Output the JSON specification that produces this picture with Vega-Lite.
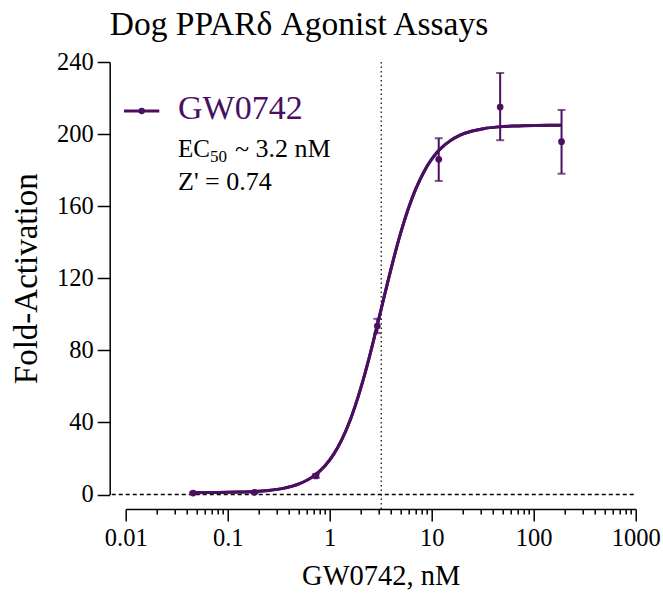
{
  "$schema": "https://vega.github.io/schema/vega-lite/v6.json",
  "width": 510,
  "height": 432.5,
  "autosize": {"type": "none"},
  "padding": {"left": 125.7, "top": 62, "right": 27.3, "bottom": 98.5},
  "background": "white",
  "config": {"view": {"stroke": null}, "font": "Liberation Serif"},
  "title": {"text": "Dog PPARδ Agonist Assays", "font": "Liberation Serif", "fontSize": 33.5, "fontWeight": "normal", "anchor": "start", "frame": "group", "dx": -16, "offset": 7, "color": "black"},
  "datasets": {
    "pts": [
      {"conc": 0.0458, "fold": 0.8, "lo": 0.3, "hi": 1.3},
      {"conc": 0.183, "fold": 1.2, "lo": 0.7, "hi": 1.7},
      {"conc": 0.732, "fold": 10.3, "lo": 9.3, "hi": 11.3},
      {"conc": 2.93, "fold": 93.5, "lo": 89.5, "hi": 97.5},
      {"conc": 11.72, "fold": 186.0, "lo": 174.0, "hi": 197.7},
      {"conc": 46.9, "fold": 215.0, "lo": 196.6, "hi": 233.9},
      {"conc": 187.5, "fold": 195.8, "lo": 178.0, "hi": 213.4}
    ],
    "curve": [
      {"conc": 0.0458, "fold": 1.04},
      {"conc": 0.06, "fold": 1.07},
      {"conc": 0.08, "fold": 1.13},
      {"conc": 0.1, "fold": 1.2},
      {"conc": 0.13, "fold": 1.34},
      {"conc": 0.18, "fold": 1.64},
      {"conc": 0.25, "fold": 2.24},
      {"conc": 0.35, "fold": 3.41},
      {"conc": 0.5, "fold": 5.86},
      {"conc": 0.7, "fold": 10.32},
      {"conc": 0.9, "fold": 15.96},
      {"conc": 1.1, "fold": 22.56},
      {"conc": 1.3, "fold": 29.9},
      {"conc": 1.6, "fold": 41.8},
      {"conc": 2.0, "fold": 58.3},
      {"conc": 2.4, "fold": 74.4},
      {"conc": 2.8, "fold": 89.5},
      {"conc": 3.2, "fold": 103.0},
      {"conc": 3.7, "fold": 117.7},
      {"conc": 4.3, "fold": 132.3},
      {"conc": 5.0, "fold": 145.7},
      {"conc": 6.0, "fold": 159.8},
      {"conc": 7.0, "fold": 169.7},
      {"conc": 8.5, "fold": 179.7},
      {"conc": 10.0, "fold": 186.1},
      {"conc": 12.0, "fold": 191.5},
      {"conc": 15.0, "fold": 196.1},
      {"conc": 19.0, "fold": 199.4},
      {"conc": 25.0, "fold": 201.7},
      {"conc": 32.0, "fold": 203.0},
      {"conc": 45.0, "fold": 204.0},
      {"conc": 65.0, "fold": 204.5},
      {"conc": 100.0, "fold": 204.8},
      {"conc": 140.0, "fold": 204.9},
      {"conc": 187.5, "fold": 204.94}
    ]
  },
  "layer": [
    {
      "data": {"name": "curve"},
      "mark": {"type": "line", "color": "#4a0f5f", "strokeWidth": 3, "interpolate": "monotone"},
      "encoding": {
        "x": {
          "field": "conc", "type": "quantitative",
          "scale": {"type": "log", "domain": [0.01, 1000], "nice": false},
          "axis": {
            "title": "GW0742, nM",
            "titleFont": "Liberation Serif", "titleFontSize": 28.5, "titleFontWeight": "normal", "titleColor": "black", "titlePadding": 12,
            "values": [0.01,0.02,0.03,0.04,0.05,0.06,0.07,0.08,0.09,0.1,0.2,0.3,0.4,0.5,0.6,0.7,0.8,0.9,1,2,3,4,5,6,7,8,9,10,20,30,40,50,60,70,80,90,100,200,300,400,500,600,700,800,900,1000],
            "format": "~g",
            "labelExpr": "abs(log(datum.value)/LN10 - round(log(datum.value)/LN10)) < 0.01 ? datum.label : ''",
            "labelOverlap": false,
            "labelFlush": false,
            "labelFont": "Liberation Serif", "labelFontSize": 24.5, "labelColor": "black", "labelPadding": 5,
            "tickSize": {"condition": {"test": "abs(log(datum.value)/LN10 - round(log(datum.value)/LN10)) < 0.01", "value": 12}, "value": 5},
            "tickColor": "black", "tickWidth": 1.5,
            "domainColor": "black", "domainWidth": 1.5,
            "offset": 14.5,
            "grid": false
          }
        },
        "y": {
          "field": "fold", "type": "quantitative",
          "scale": {"domain": [0, 240], "nice": false},
          "axis": {
            "title": "Fold-Activation",
            "titleFont": "Liberation Serif", "titleFontSize": 33, "titleFontWeight": "normal", "titleColor": "black", "titlePadding": 13,
            "values": [0, 40, 80, 120, 160, 200, 240],
            "labelFont": "Liberation Serif", "labelFontSize": 24.5, "labelColor": "black", "labelPadding": 4,
            "tickSize": 12.5, "tickColor": "black", "tickWidth": 1.5,
            "domainColor": "black", "domainWidth": 1.5,
            "offset": 16,
            "grid": false
          }
        }
      }
    },
    {
      "data": {"values": [{}]},
      "mark": {"type": "rule", "color": "black", "strokeWidth": 1.5, "strokeDash": [4, 3]},
      "encoding": {"x": {"datum": 0.0073, "type": "quantitative"}, "x2": {"datum": 1000}, "y": {"datum": 0, "type": "quantitative"}}
    },
    {
      "data": {"values": [{}]},
      "mark": {"type": "rule", "color": "black", "strokeWidth": 1.2, "strokeDash": [1.5, 3]},
      "encoding": {"x": {"datum": 3.2, "type": "quantitative"}, "y": {"datum": 240, "type": "quantitative"}, "y2": {"datum": -8}}
    },
    {
      "data": {"name": "curve"},
      "mark": {"type": "line", "color": "#4a0f5f", "strokeWidth": 3, "interpolate": "monotone"},
      "encoding": {"x": {"field": "conc", "type": "quantitative"}, "y": {"field": "fold", "type": "quantitative"}}
    },
    {
      "data": {"name": "pts"},
      "mark": {"type": "rule", "color": "#4a0f5f", "strokeWidth": 2},
      "encoding": {"x": {"field": "conc", "type": "quantitative"}, "y": {"field": "lo", "type": "quantitative"}, "y2": {"field": "hi"}}
    },
    {
      "data": {"name": "pts"},
      "mark": {"type": "tick", "orient": "horizontal", "color": "#4a0f5f", "thickness": 2, "size": 8},
      "encoding": {"x": {"field": "conc", "type": "quantitative"}, "y": {"field": "lo", "type": "quantitative"}}
    },
    {
      "data": {"name": "pts"},
      "mark": {"type": "tick", "orient": "horizontal", "color": "#4a0f5f", "thickness": 2, "size": 8},
      "encoding": {"x": {"field": "conc", "type": "quantitative"}, "y": {"field": "hi", "type": "quantitative"}}
    },
    {
      "data": {"name": "pts"},
      "mark": {"type": "point", "filled": true, "color": "#4a0f5f", "size": 45, "opacity": 1},
      "encoding": {"x": {"field": "conc", "type": "quantitative"}, "y": {"field": "fold", "type": "quantitative"}}
    },
    {
      "data": {"values": [{}]},
      "mark": {"type": "rule", "color": "#4a0f5f", "strokeWidth": 3},
      "encoding": {"x": {"datum": 0.00962, "type": "quantitative"}, "x2": {"datum": 0.02135}, "y": {"datum": 212.8, "type": "quantitative"}}
    },
    {
      "data": {"values": [{}]},
      "mark": {"type": "point", "filled": true, "color": "#4a0f5f", "size": 40, "opacity": 1},
      "encoding": {"x": {"datum": 0.01435, "type": "quantitative"}, "y": {"datum": 212.8, "type": "quantitative"}}
    },
    {
      "data": {"values": [{}]},
      "mark": {"type": "text", "text": "GW0742", "font": "Liberation Serif", "fontSize": 34, "color": "#4a0f5f", "align": "left", "baseline": "alphabetic"},
      "encoding": {"x": {"datum": 0.03256, "type": "quantitative"}, "y": {"datum": 208.4, "type": "quantitative"}}
    },
    {
      "data": {"values": [{}]},
      "mark": {"type": "text", "text": "EC", "font": "Liberation Serif", "fontSize": 25, "color": "black", "align": "left", "baseline": "alphabetic"},
      "encoding": {"x": {"datum": 0.03256, "type": "quantitative"}, "y": {"datum": 187.3, "type": "quantitative"}}
    },
    {
      "data": {"values": [{}]},
      "mark": {"type": "text", "text": "50", "font": "Liberation Serif", "fontSize": 17, "color": "black", "align": "left", "baseline": "alphabetic", "dx": 32, "dy": 5},
      "encoding": {"x": {"datum": 0.03256, "type": "quantitative"}, "y": {"datum": 187.3, "type": "quantitative"}}
    },
    {
      "data": {"values": [{}]},
      "mark": {"type": "text", "text": "~ 3.2 nM", "font": "Liberation Serif", "fontSize": 26, "color": "black", "align": "left", "baseline": "alphabetic", "dx": 57},
      "encoding": {"x": {"datum": 0.03256, "type": "quantitative"}, "y": {"datum": 187.3, "type": "quantitative"}}
    },
    {
      "data": {"values": [{}]},
      "mark": {"type": "text", "text": "Z' = 0.74", "font": "Liberation Serif", "fontSize": 26, "color": "black", "align": "left", "baseline": "alphabetic"},
      "encoding": {"x": {"datum": 0.03256, "type": "quantitative"}, "y": {"datum": 169.0, "type": "quantitative"}}
    }
  ]
}
